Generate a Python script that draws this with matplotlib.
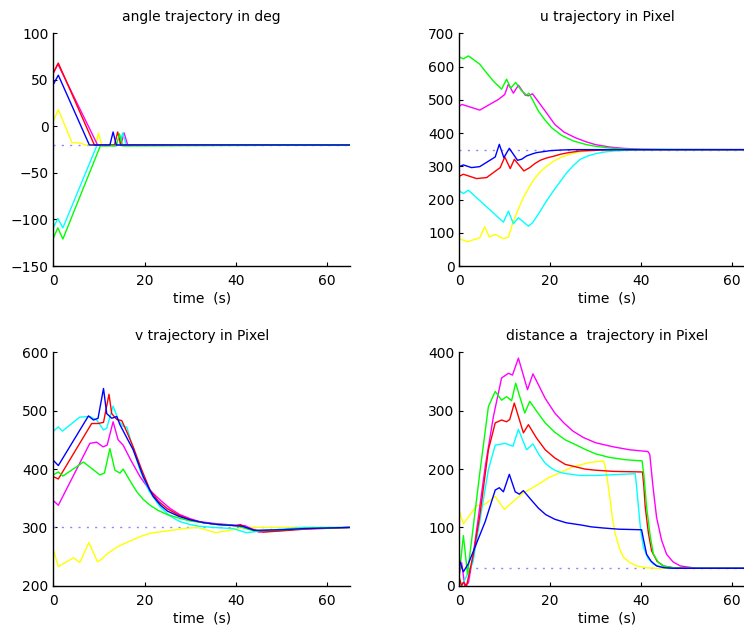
import matplotlib
matplotlib.use("Agg")
import matplotlib.pyplot as plt

plt.rcParams['font.family'] = ['DejaVu Sans']
plt.rcParams['font.size'] = 10

colors = ['#ffff00', '#ff00ff', '#00ffff', '#ff0000', '#00ff00', '#0000ff']
time_label = "time  (s)"
titles = ["angle trajectory in deg", "u trajectory in Pixel",
          "v trajectory in Pixel", "distance a  trajectory in Pixel"]
targets = [-20, 350, 300, 30]
yticks_list = [[-150, -100, -50, 0, 50, 100], list(range(0, 701, 100)),
               [200, 300, 400, 500, 600], [0, 100, 200, 300, 400]]
xticks = [0, 20, 40, 60]

# ---------------- angle (deg) ----------------
ang_y_t = [0, 1.1, 4.1, 6, 7, 9.3, 9.9, 10.6, 65]
ang_y = [5.7, 18, -17.5, -18, -20, -20, -7, -20, -20]
ang_m_t = [0, 1.0, 9.7, 14.8, 15.5, 16.3, 65]
ang_m = [57, 67, -20, -20, -7, -20, -20]
ang_c_t = [0, 1.0, 2.1, 9.6, 14.5, 15.2, 16, 65]
ang_c = [-109, -99, -109, -20, -20, -7, -20, -20]
ang_r_t = [0, 1.1, 9.0, 13.4, 14.1, 14.8, 65]
ang_r = [57.5, 68, -20, -20, -6, -20, -20]
ang_g_t = [0, 1.0, 2.1, 10.3, 13.8, 14.5, 15.2, 65]
ang_g = [-120, -109, -121, -21, -21, -8, -21, -20]
ang_b_t = [0, 1.1, 7.9, 12.4, 13.1, 13.8, 65]
ang_b = [45, 55, -20, -20, -6, -20, -20]

# ---------------- u (pixel) ----------------
u_y_t = [0, 1.8, 4.5, 5.6, 6.6, 7.9, 9.7, 10.8, 11.9, 13, 14.1, 15.2, 16.3, 17.7, 19.2, 20.7,
         22.2, 24, 26, 28, 30, 35, 65]
u_y = [82, 73, 85, 118, 87, 95, 82, 87, 135, 172, 206, 233, 258, 282, 300, 315,
       326, 335, 342, 346, 348, 350, 350]
u_m_t = [0, 0.6, 4.5, 8.6, 10, 10.8, 11.9, 13, 14.5, 15.2, 16.1, 17.5, 18.9, 21, 23, 25.5,
         28, 30, 33, 36, 40, 45, 65]
u_m = [481, 486, 469, 501, 516, 547, 520, 544, 514, 512, 518, 492, 466, 426, 403, 386,
       373, 365, 358, 354, 351, 350, 350]
u_c_t = [0, 0.9, 2, 9.7, 10.8, 11.9, 13, 15.2, 16.1, 17, 17.8, 19.2, 20.7, 22.2, 23.6, 25,
         26.6, 28.3, 30, 32, 34, 37, 40, 65]
u_c = [226, 218, 228, 132, 165, 127, 145, 120, 130, 148, 165, 196, 226, 254, 280, 301,
       321, 331, 338, 343, 346, 348, 349, 350]
u_r_t = [0, 0.9, 3.8, 6, 9, 10, 11.2, 12.1, 14.2, 15.5, 16.6, 17.8, 19.2, 20.7, 22.2, 24,
         26.6, 30, 35, 65]
u_r = [270, 276, 263, 266, 296, 328, 293, 321, 286, 296, 308, 318, 325, 330, 336, 341,
       346, 348, 350, 350]
u_g_t = [0, 0.9, 2, 4.5, 5.65, 7.5, 9.3, 10.4, 11.3, 12.4, 13.7, 14.8, 15.3, 16.3, 17.4, 18.8,
         20.3, 22.5, 25.1, 28, 30, 33, 36, 40, 65]
u_g = [629, 623, 632, 607, 587, 556, 532, 562, 535, 552, 527, 514, 520, 495, 466, 440,
       416, 393, 376, 365, 360, 355, 352, 351, 350]
u_b_t = [0, 0.9, 2.7, 4.5, 7.9, 8.8, 9.8, 11, 12.8, 13.7, 14.8, 16, 17, 18.5, 20, 22.5, 25, 65]
u_b = [299, 304, 296, 299, 328, 366, 326, 354, 318, 321, 331, 337, 341, 344, 347, 349, 350, 350]

# ---------------- v (pixel) ----------------
v_y_t = [0, 1.1, 4.4, 5.8, 7.8, 9.7, 10.3, 12, 13.9, 15.7, 17.5, 19.3, 21.2, 23, 24.8, 26.7,
         28.5, 31.5, 33, 35.5, 38, 39.4, 41.5, 65]
v_y = [262, 233, 248, 240, 274, 241, 244, 256, 266, 273, 279, 285, 290, 292, 294, 296,
       298, 300, 297, 291, 294, 296, 300, 300]
v_m_t = [0, 1.1, 8.0, 9.5, 10.9, 11.8, 13.1, 14.2, 15.3, 17, 19, 21, 23.4, 25.5, 27.7, 30,
         32, 35, 39.4, 42, 45, 50, 55, 65]
v_m = [346, 338, 444, 446, 438, 441, 481, 450, 441, 415, 387, 365, 347, 333, 322, 315,
       310, 307, 304, 303, 292, 295, 298, 300]
v_c_t = [0, 1.1, 2, 5.8, 8, 9.5, 11, 11.7, 13.1, 14.2, 15.3, 16.1, 17.5, 19, 21, 23.4,
         25.5, 27.7, 30, 32, 35, 39.4, 42.3, 46.7, 55, 65]
v_c = [465, 472, 465, 489, 490, 484, 467, 470, 508, 485, 473, 472, 435, 398, 362, 335,
       320, 310, 305, 302, 300, 298, 291, 295, 300, 300]
v_r_t = [0, 1.1, 8.4, 9.8, 11, 12.2, 12.8, 13.9, 15, 16.2, 17.5, 19.3, 21.2, 23, 25, 27.5,
         30, 33, 36, 40, 41, 42, 46, 50, 55, 65]
v_r = [387, 383, 478, 478, 480, 528, 495, 485, 483, 462, 438, 400, 364, 345, 332, 321,
       313, 308, 305, 303, 305, 300, 292, 294, 297, 300]
v_g_t = [0, 1.1, 2.1, 6.6, 10.2, 11.2, 12.4, 13.5, 14.6, 15.3, 16.8, 18.3, 19.7, 21.2, 23,
         25, 27.5, 30, 35, 40, 44, 50, 55, 65]
v_g = [390, 395, 388, 412, 390, 393, 435, 398, 393, 400, 380, 361, 348, 338, 329,
       322, 316, 311, 306, 303, 294, 296, 298, 300]
v_b_t = [0, 1.1, 7.7, 8.8, 9.8, 11, 11.7, 12.8, 13.9, 14.6, 16, 17.5, 18.6, 19.7, 20.8, 21.9,
         23.5, 25, 27.5, 30, 33, 36, 40, 41.5, 44, 50, 55, 65]
v_b = [415, 406, 491, 484, 487, 538, 495, 487, 490, 476, 455, 433, 410, 387, 369, 353,
       338, 328, 319, 313, 308, 305, 303, 302, 295, 296, 298, 300]

# ---------------- distance a (pixel) ----------------
d_y_t = [0, 0.9, 3.8, 5.7, 7.9, 9.9, 13.7, 17, 19.6, 23.3, 25.1, 28.5, 31.7, 32.1, 32.6, 33.2,
         33.7, 34.3, 35.2, 36.1, 37.5, 39, 41, 43, 65]
d_y = [128, 106, 137, 140, 153, 131, 157, 172, 185, 198, 204, 211, 214, 205, 180, 146,
       115, 89, 65, 49, 40, 34, 31, 30, 30]
d_m_t = [0, 0.5, 1.2, 2, 3.1, 5.7, 7.5, 9.3, 10.8, 11.7, 13, 15, 16.2, 17.5, 18.9, 21, 23,
         25, 27.3, 30, 33.9, 37.5, 41.5, 41.9, 42.6, 43.4, 44.5, 45.6, 47, 48.6, 52.2, 65]
d_m = [20, 40, 0, 5, 55, 204, 290, 356, 364, 361, 390, 336, 363, 343, 321, 296, 279,
       265, 254, 245, 238, 233, 230, 225, 170, 117, 78, 54, 41, 34, 30, 30]
d_c_t = [0, 0.5, 1.5, 3, 6.4, 7.9, 10.1, 11.8, 13, 14.8, 16.2, 17.5, 18.9, 20, 21, 22.3,
         23.6, 26.6, 30, 33, 36, 38.7, 39, 39.4, 39.9, 40.5, 41.5, 42.7, 44.5, 47, 65]
d_c = [10, 0, 15, 40, 199, 241, 244, 239, 268, 233, 243, 225, 210, 203, 198, 194,
       192, 189, 189, 190, 191, 192, 170, 135, 95, 66, 47, 37, 32, 30, 30]
d_r_t = [0, 0.5, 0.9, 1.6, 3.1, 4.5, 6.4, 7.9, 9.3, 10.4, 11.1, 12.1, 14.1, 15.2, 17, 18.9,
         21, 23.3, 25.5, 27.6, 30, 33.9, 40.3, 40.6, 40.9, 41.6, 42.3, 43.5, 44.9, 47, 50, 65]
d_r = [14, 0, 6, 0, 54, 120, 233, 279, 284, 281, 285, 313, 262, 276, 253, 233,
       219, 208, 204, 200, 198, 196, 195, 170, 135, 90, 60, 42, 34, 31, 30, 30]
d_g_t = [0, 0.9, 1.8, 4.6, 6.4, 7.9, 9.3, 10.4, 11.5, 12.4, 14.4, 15.5, 17.2, 18.9, 21, 23.3,
         25.5, 27.6, 30, 33, 36.5, 40.2, 40.6, 41.2, 42, 42.7, 43.8, 44.9, 47, 50, 65]
d_g = [20, 86, 20, 199, 307, 333, 318, 324, 317, 347, 296, 316, 297, 279, 263, 250,
       242, 234, 226, 220, 216, 214, 190, 135, 85, 54, 40, 34, 31, 30, 30]
d_b_t = [0, 0.9, 2, 5.7, 7.9, 8.8, 9.7, 11, 12.3, 13.2, 14.1, 15.5, 17.4, 19, 21, 23.5, 26.9,
         29, 31.7, 35, 40.1, 40.5, 41.2, 42.2, 43.4, 45, 47, 65]
d_b = [44, 24, 38, 110, 164, 168, 161, 191, 161, 157, 163, 150, 133, 122, 114, 108, 104,
       101, 99, 97, 96, 80, 54, 42, 34, 31, 30, 30]

panels = [
    [(ang_y_t, ang_y), (ang_m_t, ang_m), (ang_c_t, ang_c), (ang_r_t, ang_r), (ang_g_t, ang_g), (ang_b_t, ang_b)],
    [(u_y_t, u_y), (u_m_t, u_m), (u_c_t, u_c), (u_r_t, u_r), (u_g_t, u_g), (u_b_t, u_b)],
    [(v_y_t, v_y), (v_m_t, v_m), (v_c_t, v_c), (v_r_t, v_r), (v_g_t, v_g), (v_b_t, v_b)],
    [(d_y_t, d_y), (d_m_t, d_m), (d_c_t, d_c), (d_r_t, d_r), (d_g_t, d_g), (d_b_t, d_b)],
]

W, H = 744, 627
fig = plt.figure(figsize=(W / 100, H / 100), dpi=100)
# axes boxes in pixels: (left, top, right, bottom)
boxes = [(53.3, 33.3, 350.0, 266.0), (459.3, 33.3, 754.8, 266.0),
         (53.3, 352.3, 350.0, 585.8), (459.3, 352.3, 754.8, 585.8)]

for i, (box, series) in enumerate(zip(boxes, panels)):
    l, t, r, b = box
    ax = fig.add_axes([l / W, 1 - b / H, (r - l) / W, (b - t) / H])
    ax.plot([0, 65], [targets[i], targets[i]], color='#8888ff',
            linestyle=(0, (1.5, 4.5)), linewidth=1.0)
    for (tt, vv), c in zip(series, colors):
        ax.plot(tt, vv, color=c, linewidth=1.0)
    ax.set_xlim(0, 65)
    ax.set_ylim(yticks_list[i][0], yticks_list[i][-1])
    ax.set_xticks(xticks)
    ax.set_yticks(yticks_list[i])
    ax.spines['top'].set_visible(False)
    ax.spines['right'].set_visible(False)
    for s in ('left', 'bottom'):
        ax.spines[s].set_linewidth(1.0)
    ax.tick_params(direction='in', length=3, width=0.8, labelsize=10)
    ax.tick_params(axis='x', pad=6)
    ax.tick_params(axis='y', pad=3.5)
    ax.set_title(titles[i], fontsize=10, pad=8.5)
    ax.set_xlabel(time_label, fontsize=10, labelpad=2.5)

fig.savefig("out.png", dpi=100)
